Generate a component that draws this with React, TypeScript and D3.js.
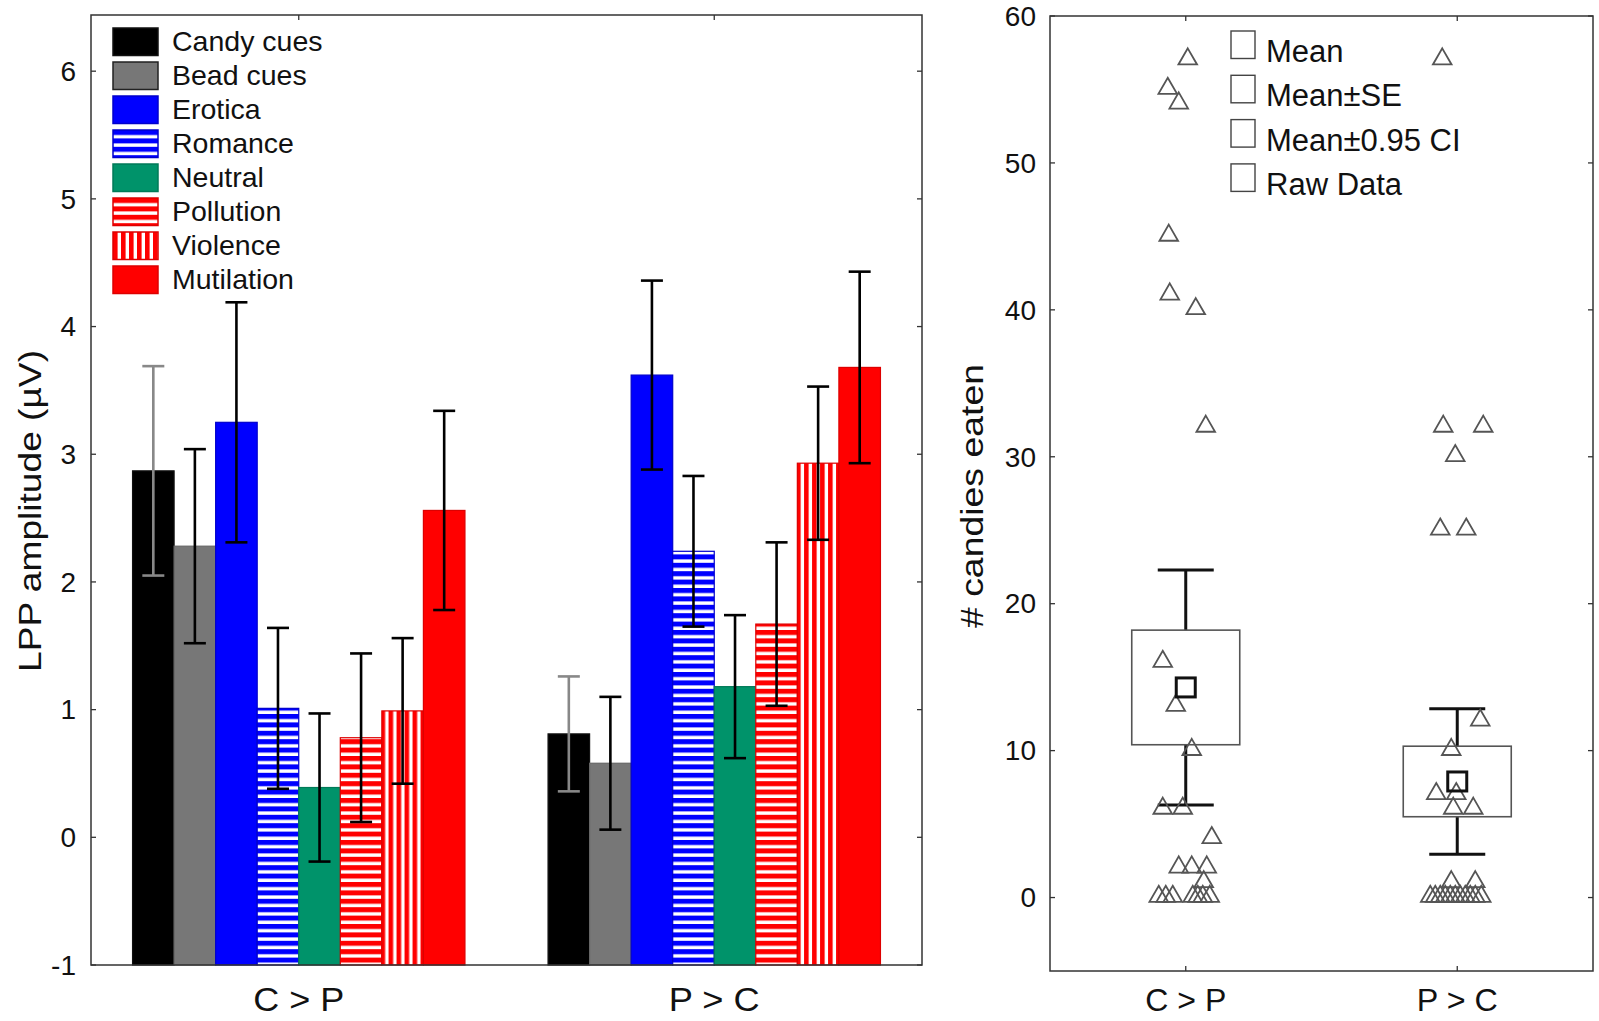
import React from "react";
import * as d3 from "d3";

// ---------- Left chart data ----------
const groups = ["C > P", "P > C"];
const conditions = ["Candy cues", "Bead cues", "Erotica", "Romance", "Neutral", "Pollution", "Violence", "Mutilation"];
const meansCP = [2.87, 2.28, 3.25, 1.01, 0.39, 0.78, 0.99, 2.56];
const errCP = [0.82, 0.76, 0.94, 0.63, 0.58, 0.66, 0.57, 0.78];
const meansPC = [0.81, 0.58, 3.62, 2.24, 1.18, 1.67, 2.93, 3.68];
const errPC = [0.45, 0.52, 0.74, 0.59, 0.56, 0.64, 0.60, 0.75];
const leftTicks = [-1, 0, 1, 2, 3, 4, 5, 6];

// ---------- Right chart data ----------
const rightCats = ["C > P", "P > C"];
const candyMean = [14.3, 7.9];
const candySE = [3.9, 2.4];
const candyCI = [8.0, 4.95];
const rawCP = [57, 55, 54, 45, 41, 40, 32, 16, 13, 10, 6, 6, 4, 2, 2, 2, 1, 0, 0, 0, 0, 0, 0, 0];
const jitterCP = [2, -18, -7, -17, -16, 10, 20, -23, -10, 6, -23, -3, 26, -7, 6, 21, 18, -27, -20, -13, 7, 12, 17, 24];
const rawPC = [57, 32, 32, 30, 25, 25, 12, 10, 7, 7, 6, 6, 1, 1, 0, 0, 0, 0, 0, 0, 0, 0, 0, 0, 0];
const jitterPC = [-15, -14, 26, -2, -17, 9, 23, -6, -21, -1, -4, 16, -6, 18, -27, -22, -17, -12, -7, -2, 3, 8, 13, 18, 24];
const rightTicks = [0, 10, 20, 30, 40, 50, 60];
const rightLegend = ["Mean", "Mean±SE", "Mean±0.95 CI", "Raw Data"];

const FONT = "'Liberation Sans', Arial, sans-serif";

const fills = ["#000000", "#777777", "#0000ff", "url(#hBlue)", "#00936a", "url(#hRed)", "url(#vRed)", "#ff0000"];
const strokes = ["#111", "#666", "#0000cc", "#0000cc", "#007a58", "#dd0000", "#dd0000", "#dd0000"];
const errColors = ["#888888", "#000", "#000", "#000", "#000", "#000", "#000", "#000"];

export default function App() {
  // left scales
  const L = { x0: 91, x1: 922, y0: 15, y1: 965 };
  const yL = d3.scaleLinear().domain([-1, 6.44]).range([L.y1, L.y0]);
  const xG = d3.scaleBand().domain(groups).range([L.x0, L.x1]).paddingInner(0.2).paddingOuter(0.1);
  const xC = d3.scaleBand().domain(conditions).range([0, xG.bandwidth()]);
  const groupData = [
    { g: groups[0], m: meansCP, e: errCP },
    { g: groups[1], m: meansPC, e: errPC },
  ];

  // right scales
  const R = { x0: 1050, x1: 1593, y0: 16, y1: 971 };
  const yR = d3.scaleLinear().domain([-5, 60]).range([R.y1, R.y0]);
  const xR = d3.scalePoint().domain(rightCats).range([R.x0, R.x1]).padding(0.5);
  const raws = [
    { vals: rawCP, jit: jitterCP },
    { vals: rawPC, jit: jitterPC },
  ];
  const tri = d3.symbol().type(d3.symbolTriangle).size(150);

  const capW = 11;
  const boxHalf = 54;
  const whiskHalf = 28;

  return (
    <svg width={1599} height={1021} style={{ position: "absolute", left: 0, top: 0, background: "#fff" }} fontFamily={FONT}>
      <defs>
        <pattern id="hBlue" patternUnits="userSpaceOnUse" width={10} height={8.4}>
          <rect width={10} height={8.4} fill="#fff" />
          <rect width={10} height={5} fill="#0000ff" />
        </pattern>
        <pattern id="hRed" patternUnits="userSpaceOnUse" width={10} height={8.4}>
          <rect width={10} height={8.4} fill="#fff" />
          <rect width={10} height={5} fill="#ff0000" />
        </pattern>
        <pattern id="vRed" patternUnits="userSpaceOnUse" width={8} height={10}>
          <rect width={8} height={10} fill="#fff" />
          <rect width={4.6} height={10} fill="#ff0000" />
        </pattern>
      </defs>
      <rect width={1599} height={1021} fill="#fff" />

      {/* ===== Left chart ===== */}
      {groupData.map((gd) => (
        <g key={gd.g} transform={`translate(${xG(gd.g)},0)`}>
          {conditions.map((c, i) => (
            <rect
              key={c}
              x={xC(c)!}
              y={yL(gd.m[i])}
              width={xC.bandwidth()}
              height={yL(-1) - yL(gd.m[i])}
              fill={fills[i]}
              stroke={strokes[i]}
              strokeWidth={1.2}
            />
          ))}
          {conditions.map((c, i) => {
            const cx = xC(c)! + xC.bandwidth() / 2;
            const hi = yL(gd.m[i] + gd.e[i]);
            const lo = yL(gd.m[i] - gd.e[i]);
            return (
              <g key={c + "e"} stroke={errColors[i]} strokeWidth={2.6}>
                <line x1={cx} x2={cx} y1={hi} y2={lo} />
                <line x1={cx - capW} x2={cx + capW} y1={hi} y2={hi} />
                <line x1={cx - capW} x2={cx + capW} y1={lo} y2={lo} />
              </g>
            );
          })}
        </g>
      ))}
      {/* left frame */}
      <rect x={L.x0} y={L.y0} width={L.x1 - L.x0} height={L.y1 - L.y0} fill="none" stroke="#333" strokeWidth={1.5} />
      {leftTicks.map((t) => (
        <g key={t}>
          <line x1={L.x0} x2={L.x0 + 5} y1={yL(t)} y2={yL(t)} stroke="#333" strokeWidth={1.3} />
          <line x1={L.x1} x2={L.x1 - 5} y1={yL(t)} y2={yL(t)} stroke="#333" strokeWidth={1.3} />
          <text x={L.x0 - 15} y={yL(t)} dy="0.35em" textAnchor="end" fontSize={28} fill="#111">
            {t}
          </text>
        </g>
      ))}
      {groups.map((g) => (
        <g key={g}>
          <line x1={xG(g)! + xG.bandwidth() / 2} x2={xG(g)! + xG.bandwidth() / 2} y1={L.y0} y2={L.y0 + 5} stroke="#333" strokeWidth={1.3} />
          <text
            x={xG(g)! + xG.bandwidth() / 2}
            y={1011}
            textAnchor="middle"
            fontSize={34}
            fill="#111"
            textLength={91}
            lengthAdjust="spacingAndGlyphs"
          >
            {g}
          </text>
        </g>
      ))}
      <text
        transform={`translate(41,${511}) rotate(-90)`}
        textAnchor="middle"
        fontSize={31}
        fill="#111"
        textLength={322}
        lengthAdjust="spacingAndGlyphs"
      >
        LPP amplitude (µV)
      </text>
      {/* left legend */}
      {conditions.map((c, i) => (
        <g key={c} transform={`translate(113,${28 + i * 34})`}>
          <rect width={45} height={27.5} fill={fills[i]} stroke={i === 1 ? "#222" : strokes[i]} strokeWidth={1.5} />
          <text x={59} y={23} fontSize={28.5} fill="#111">
            {c}
          </text>
        </g>
      ))}

      {/* ===== Right chart ===== */}
      <rect x={R.x0} y={R.y0} width={R.x1 - R.x0} height={R.y1 - R.y0} fill="#fff" stroke="#333" strokeWidth={1.5} />
      {rightTicks.map((t) => (
        <g key={t}>
          <line x1={R.x0} x2={R.x0 + 5} y1={yR(t)} y2={yR(t)} stroke="#333" strokeWidth={1.3} />
          <line x1={R.x1} x2={R.x1 - 5} y1={yR(t)} y2={yR(t)} stroke="#333" strokeWidth={1.3} />
          <text x={R.x0 - 14} y={yR(t)} dy="0.35em" textAnchor="end" fontSize={28} fill="#111">
            {t}
          </text>
        </g>
      ))}
      {rightCats.map((c) => (
        <g key={c}>
          <line x1={xR(c)!} x2={xR(c)!} y1={R.y0} y2={R.y0 + 5} stroke="#333" strokeWidth={1.3} />
          <line x1={xR(c)!} x2={xR(c)!} y1={R.y1} y2={R.y1 - 5} stroke="#333" strokeWidth={1.3} />
          <text
            x={xR(c)!}
            y={1011}
            textAnchor="middle"
            fontSize={31}
            fill="#111"
            textLength={81}
            lengthAdjust="spacingAndGlyphs"
          >
            {c}
          </text>
        </g>
      ))}
      <text
        transform={`translate(983,496) rotate(-90)`}
        textAnchor="middle"
        fontSize={31}
        fill="#111"
        textLength={264}
        lengthAdjust="spacingAndGlyphs"
      >
        # candies eaten
      </text>
      {/* whiskers & boxes */}
      {rightCats.map((c, i) => {
        const cx = xR(c)!;
        const m = candyMean[i];
        return (
          <g key={c}>
            <g stroke="#111" strokeWidth={3}>
              <line x1={cx} x2={cx} y1={yR(m + candyCI[i])} y2={yR(m - candyCI[i])} />
              <line x1={cx - whiskHalf} x2={cx + whiskHalf} y1={yR(m + candyCI[i])} y2={yR(m + candyCI[i])} />
              <line x1={cx - whiskHalf} x2={cx + whiskHalf} y1={yR(m - candyCI[i])} y2={yR(m - candyCI[i])} />
            </g>
            <rect
              x={cx - boxHalf}
              y={yR(m + candySE[i])}
              width={boxHalf * 2}
              height={yR(m - candySE[i]) - yR(m + candySE[i])}
              fill="#fff"
              stroke="#555"
              strokeWidth={1.6}
            />
          </g>
        );
      })}
      {/* raw data */}
      {rightCats.map((c, i) => (
        <g key={c + "raw"}>
          {raws[i].vals.map((v, j) => (
            <path
              key={j}
              d={tri()!}
              transform={`translate(${xR(c)! + raws[i].jit[j]},${yR(v) - 1})`}
              fill="none"
              stroke="#555"
              strokeWidth={1.8}
            />
          ))}
        </g>
      ))}
      {/* means */}
      {rightCats.map((c, i) => (
        <rect
          key={c + "m"}
          x={xR(c)! - 9.5}
          y={yR(candyMean[i]) - 9.5}
          width={19}
          height={19}
          fill="none"
          stroke="#111"
          strokeWidth={3}
        />
      ))}
      {/* right legend */}
      {rightLegend.map((l, i) => (
        <g key={l} transform={`translate(1231,${31 + i * 44.3})`}>
          <rect width={24} height={27.5} fill="#fff" stroke="#444" strokeWidth={1.4} />
          <text x={35} y={31} fontSize={31} fill="#111">
            {l}
          </text>
        </g>
      ))}
    </svg>
  );
}
